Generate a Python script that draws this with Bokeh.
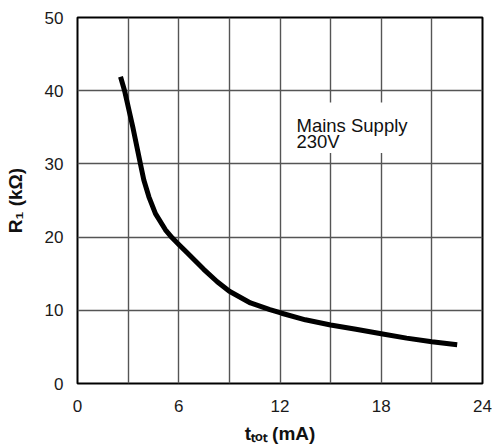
from bokeh.plotting import figure
from bokeh.models import Range1d, FixedTicker, SingleIntervalTicker, Label, BoxAnnotation
from bokeh.embed import file_html
from bokeh.resources import INLINE

# ---- data ----
i_tot_ma = [2.55, 2.79, 3.28, 3.73, 3.93, 4.23, 4.62, 5.21, 5.61, 6.0, 6.5, 7.48, 8.28,
            9.0, 10.25, 11.4, 12.1, 13.5, 15.0, 16.5, 18.0, 19.5, 21.0, 22.5]
r1_kohm = [41.9, 40.0, 35.0, 30.0, 27.8, 25.5, 23.2, 21.0, 19.9, 19.0, 17.85, 15.6, 13.9,
           12.6, 11.0, 10.1, 9.6, 8.7, 8.0, 7.4, 6.8, 6.2, 5.7, 5.3]
x_ticks = [0, 6, 12, 18, 24]
y_ticks = [0, 10, 20, 30, 40, 50]
annotation_lines = ["Mains Supply", "230V"]
x_label = "t\u209c\u2092\u209c (mA)"
y_label = "R\u2081 (k\u03a9)"

FONT = "Liberation Sans"

# layout (pixels)
BL, BR, BT, BB = 77, 10, 17, 59
FW, FH = 405, 370
W, H = BL + FW + BR, BT + FH + BB

p = figure(width=W, height=H, output_backend="svg", toolbar_location=None,
           x_range=Range1d(0, 24), y_range=Range1d(0, 50),
           min_border_left=BL, min_border_right=BR, min_border_top=BT,
           min_border_bottom=BB)
p.background_fill_color = "white"
p.border_fill_color = "white"
p.outline_line_color = "black"
p.outline_line_width = 2

# axes
for ax in (p.xaxis[0], p.yaxis[0]):
    ax.axis_line_color = None
    ax.major_tick_line_color = None
    ax.minor_tick_line_color = None
    ax.major_label_text_font = FONT
    ax.major_label_text_font_size = "17px"
    ax.major_label_text_color = "#1a1a1a"
    ax.axis_label_text_font = FONT
    ax.axis_label_text_font_size = "19px"
    ax.axis_label_text_font_style = "bold"
    ax.axis_label_text_color = "#111111"
p.xaxis.ticker = FixedTicker(ticks=x_ticks)
p.yaxis.ticker = FixedTicker(ticks=y_ticks)
p.xaxis.major_label_standoff = 10
p.yaxis.major_label_standoff = 8
p.xaxis.axis_label = x_label
p.yaxis.axis_label = y_label
p.xaxis.axis_label_standoff = 8
p.yaxis.axis_label_standoff = 16

# grid
p.xgrid.ticker = SingleIntervalTicker(interval=3)
p.ygrid.ticker = SingleIntervalTicker(interval=10)
for g in (p.xgrid[0], p.ygrid[0]):
    g.grid_line_color = "#555555"
    g.grid_line_width = 1.4
    g.grid_line_alpha = 1.0

# curve
p.line(i_tot_ma, r1_kohm, line_color="black", line_width=5, line_join="round")

# helpers: page pixel -> data
def dx(px):
    return (px - BL) / FW * 24

def dy(py):
    return (BT + FH - py) / FH * 50

# white box behind annotation text
p.add_layout(BoxAnnotation(left=dx(286), right=dx(420), top=dy(103), bottom=dy(154),
                           fill_color="white", fill_alpha=1.0, line_color=None,
                           level="overlay"))
for txt, base in zip(annotation_lines, (126, 142)):
    p.add_layout(Label(x=dx(296), y=dy(base), text=txt, text_font=FONT,
                       text_font_size="18.5px", text_color="#111111",
                       text_align="left", text_baseline="alphabetic", level="overlay"))

open("out.html", "w").write(file_html(p, INLINE))
